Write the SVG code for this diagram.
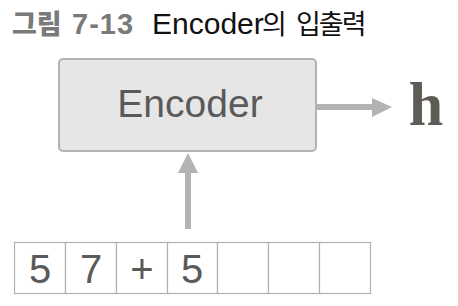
<svg xmlns="http://www.w3.org/2000/svg" width="458" height="306" viewBox="0 0 458 306">
<style>
.t{font-family:"Liberation Sans","Noto Sans CJK KR",sans-serif;}
.k{font-family:"Noto Sans CJK KR","Liberation Sans",sans-serif;}
.cell{fill:#fff;stroke:#b0b0b0;stroke-width:1.2;}
.dig{font-family:"Liberation Sans",sans-serif;font-size:40px;fill:#5a5a5a;text-anchor:middle;}
.conn{stroke:#b3b3b3;stroke-width:6;fill:none;}
.head{fill:#b3b3b3;}
</style>
<rect width="458" height="306" fill="#fff"/>
<g id="title">
<text class="t" y="34" font-weight="bold" fill="#7a7a7a"><tspan class="k" x="12" font-size="27" font-weight="900">그림</tspan><tspan x="72" font-size="29" letter-spacing="1">7-13</tspan></text>
<text class="t" y="34" fill="#111"><tspan x="152" font-size="30">Encoder</tspan><tspan class="k" x="262" font-size="27">의</tspan><tspan class="k" x="296" font-size="27" letter-spacing="-2">입출력</tspan></text>
</g>
<g id="encoder">
<rect x="59" y="59" width="257" height="92" rx="4" fill="#e6e6e6" stroke="#b3b3b3" stroke-width="2"/>
<text class="t" x="190" y="117" font-size="39" fill="#5a5a5a" text-anchor="middle">Encoder</text>
</g>
<g id="h">
<text x="426" y="125" font-family="Liberation Serif,serif" font-weight="bold" font-size="62" fill="#5f5b57" text-anchor="middle">h</text>
</g>
<g id="input">
<rect class="cell" x="14.5" y="242.5" width="51" height="51"/>
<rect class="cell" x="65.5" y="242.5" width="51" height="51"/>
<rect class="cell" x="116.5" y="242.5" width="51" height="51"/>
<rect class="cell" x="167.5" y="242.5" width="50" height="51"/>
<rect class="cell" x="217.5" y="242.5" width="51" height="51"/>
<rect class="cell" x="268.5" y="242.5" width="51" height="51"/>
<rect class="cell" x="319.5" y="242.5" width="51" height="51"/>
<text class="dig" x="40" y="283">5</text>
<text class="dig" x="91" y="283">7</text>
<text class="dig" x="142" y="283">+</text>
<text class="dig" x="192" y="283">5</text>
</g>
<g id="connectors">
<line class="conn" x1="316" y1="107" x2="374" y2="107"/>
<polygon class="head" points="372,98 392,107 372,117"/>
<line class="conn" x1="188" y1="229" x2="188" y2="171"/>
<polygon class="head" points="178,173 188,153 198,173"/>
</g>
</svg>
